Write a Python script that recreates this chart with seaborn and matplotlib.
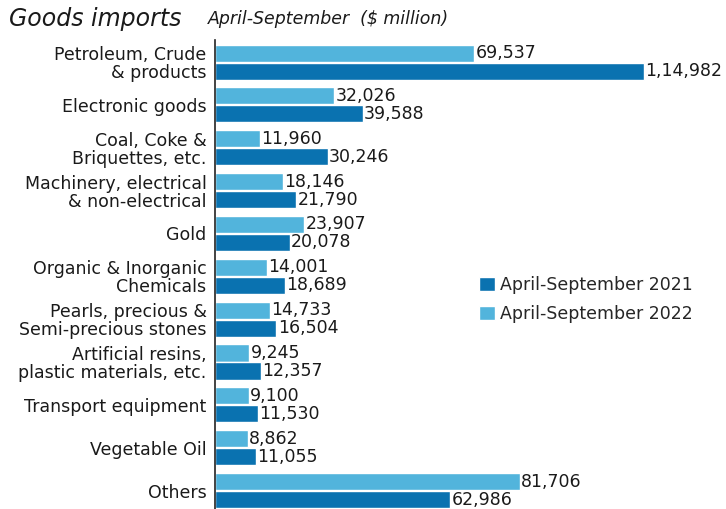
import matplotlib
matplotlib.use("Agg")
import matplotlib.pyplot as plt
import seaborn as sns
import pandas as pd
from matplotlib.patches import Patch

categories = ["Petroleum, Crude\n& products", "Electronic goods", "Coal, Coke &\nBriquettes, etc.",
              "Machinery, electrical\n& non-electrical", "Gold", "Organic & Inorganic\nChemicals",
              "Pearls, precious &\nSemi-precious stones", "Artificial resins,\nplastic materials, etc.",
              "Transport equipment", "Vegetable Oil", "Others"]
vals_2022 = [69537, 32026, 11960, 18146, 23907, 14001, 14733, 9245, 9100, 8862, 81706]
vals_2021 = [114982, 39588, 30246, 21790, 20078, 18689, 16504, 12357, 11530, 11055, 62986]
labels_2022 = ["69,537", "32,026", "11,960", "18,146", "23,907", "14,001", "14,733", "9,245", "9,100", "8,862", "81,706"]
labels_2021 = ["1,14,982", "39,588", "30,246", "21,790", "20,078", "18,689", "16,504", "12,357", "11,530", "11,055", "62,986"]
series = ["April-September 2022", "April-September 2021"]

df = pd.DataFrame({
    "category": categories * 2,
    "value": vals_2022 + vals_2021,
    "series": [series[0]] * len(categories) + [series[1]] * len(categories),
})

light = "#52B4DC"
dark = "#0A72B0"
palette = {series[0]: light, series[1]: dark}

sns.set_style("white")
plt.rcParams["font.family"] = ["DejaVu Sans"]

fig = plt.figure(figsize=(7.26, 5.09), dpi=100)
ax = fig.add_axes([0.296, 0.0, 0.704, 0.921])

sns.barplot(data=df, y="category", x="value", hue="series", hue_order=series,
            palette=palette, orient="h", width=0.84, gap=0.05, ax=ax,
            legend=False, saturation=1)

for cont, labs in zip(ax.containers, [labels_2022, labels_2021]):
    ax.bar_label(cont, labels=labs, padding=1, fontsize=12.5, color="#1a1a1a")

ax.set_xlim(0, 137000)
ax.set_ylim(10.43, -0.51)
ax.set_xlabel("")
ax.set_ylabel("")
ax.set_xticks([])
for s in ["top", "right", "bottom"]:
    ax.spines[s].set_visible(False)
ax.spines["left"].set_color("#222222")
ax.spines["left"].set_linewidth(1.2)
ax.tick_params(axis="y", length=0, pad=6, labelsize=12.5, labelcolor="#1a1a1a")
for t in ax.get_yticklabels():
    t.set_linespacing(1.0)
    t.set_horizontalalignment("right")

fig.text(0.012, 0.962, "Goods imports", fontsize=17, style="italic", color="#1a1a1a", va="center")
fig.text(0.286, 0.962, "April-September  ($ million)", fontsize=12.5, style="italic", color="#1a1a1a", va="center")

handles = [Patch(facecolor=dark, label="April-September 2021"),
           Patch(facecolor=light, label="April-September 2022")]
fig.legend(handles=handles, loc="upper left", bbox_to_anchor=(0.66, 0.458), frameon=False,
           fontsize=12.5, handlelength=0.9, handleheight=0.9, handletextpad=0.3, labelspacing=0.65,
           borderpad=0, borderaxespad=0)

fig.savefig("out.png", dpi=100)
